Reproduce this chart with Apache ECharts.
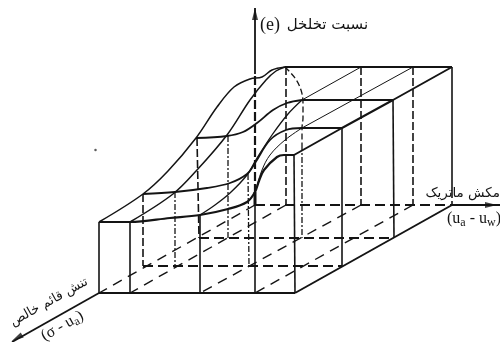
<!DOCTYPE html>
<html>
<head>
<meta charset="utf-8">
<title>chart</title>
<style>
html, body { margin: 0; padding: 0; background: #fff; }
#main { width: 500px; height: 342px; }
</style>
<script src="https://cdn.jsdelivr.net/npm/echarts@6/dist/echarts.min.js"></script>
</head>
<body>
<div id="main"></div>
<script>
// picture units: [across, down]
// curves running from the front of the block to the back
const curveLeft = [[99,222],[143,194],[168,171],[196,138],[217,107],[234,87],[250,79],[262,77],[272,70],[285,67]]
const curveSecond = [[130,222],[173,194],[197,170],[227,135],[250,100],[266,80],[276,71],[285,67]]
const curveThird = [[200,215],[215,205],[230,193],[247,175],[257,158],[272,135],[288,114],[302,100]]
const curveFourth = [[255,192],[262,170],[270,155],[285,140],[302,128]]
// curves running across the stress direction, thickest at the front
const crossFront = [[99,222],[130,222],[170,218],[200,215],[228,209],[247,202],[255,192],[259,181],[264,170],[277,157],[284,155],[294,155]]
const crossMiddle = [[143,194],[175,192],[207,188],[230,183],[247,174],[255,163],[270,140],[286,130],[302,128]]
const crossBack = [[196,138],[227,136],[243,132],[257,123],[273,110],[287,103],[302,100]]
const crownArc = [[285,67],[295,78],[301,90],[303,103],[303,118],[302,128],[302,145]]
// straight parts of the plateaus
const plateauEdge = [[294,155],[342,128],[393,100],[452,67]]
const plateauTop = [[285,67],[452,67]]
const plateauMiddle = [[302,100],[393,100]]
const plateauLow = [[302,128],[342,128]]
const ridgeOne = [[302,100],[361,67]]
const ridgeTwo = [[302,128],[413,67]]
// bottom of the block
const frontBase = [[99,293],[295,293]]
const frontRight = [[295,293],[452,205]]
const stressAxis = [[99,293],[12,342]]
const suctionAxis = [[452,205],[500,205]]
const voidAxis = [[255,8],[255,74]]
const voidDashed = [[255,76],[255,192]]
const voidFoot = [[255,192],[255,206]]
const baseBack = [[255,205],[452,205]]
const baseMiddle = [[199,238],[394,238]]
const baseFront = [[143,266],[342,266]]
// dashed lines on the floor, parallel to the stress axis
const floorLines = [
  [[255,205],[99,293]],
  [[286,205],[130,293]],
  [[361,205],[200,293]],
  [[413,205],[255,293]]
]
// verticals
const solidPosts = [
  [[99,222],[99,293]],
  [[130,222],[130,293]],
  [[200,215],[200,293]],
  [[255,195],[255,293]],
  [[294,155],[295,293]],
  [[342,128],[342,266]],
  [[393,100],[394,238]],
  [[452,67],[452,190]]
]
const dashedPosts = [
  [[143,194],[143,266]],
  [[197,138],[199,238]],
  [[286,67],[286,205]],
  [[361,67],[361,205]],
  [[413,67],[413,205]],
  [[452,190],[452,205]]
]
const dottedPosts = [
  [[175,192],[175,266]],
  [[228,136],[228,238]],
  [[248,174],[249,266]],
  [[302,145],[302,238]]
]
const arrowHeads = [[255,14,0],[491,205,-90],[17,338,120]]
const speck = [[95.5,150]]

const ink = '#141414'

// one line series from a list of points
function stroke(points, width, type, smooth) {
  return {
    type: 'line',
    data: points,
    smooth: smooth ? 0.35 : false,
    symbol: 'none',
    silent: true,
    lineStyle: { color: ink, width: width, type: type || 'solid', cap: 'butt' }
  }
}

let series = []
series.push(stroke(curveLeft, 1.5, 'solid', true))
series.push(stroke(curveSecond, 1.5, 'solid', true))
series.push(stroke(curveThird, 1.3, 'solid', true))
series.push(stroke(curveFourth, 1, 'solid', true))
series.push(stroke(crossFront, 2.2, 'solid', true))
series.push(stroke(crossMiddle, 1.8, 'solid', true))
series.push(stroke(crossBack, 1.8, 'solid', true))
series.push(stroke(crownArc, 1.3, [6, 3], true))
series.push(stroke(plateauEdge, 2))
series.push(stroke(plateauTop, 2))
series.push(stroke(plateauMiddle, 1.8))
series.push(stroke(plateauLow, 1.8))
series.push(stroke(ridgeOne, 1))
series.push(stroke(ridgeTwo, 1))
series.push(stroke(frontBase, 1.8))
series.push(stroke(frontRight, 2))
series.push(stroke(stressAxis, 1.8))
series.push(stroke(suctionAxis, 1.8))
series.push(stroke(voidAxis, 1.8))
series.push(stroke(voidDashed, 2.2, [9, 3]))
series.push(stroke(voidFoot, 3))
series.push(stroke(baseBack, 1.8, [10, 5]))
series.push(stroke(baseMiddle, 1.8, [10, 5]))
series.push(stroke(baseFront, 1.8, [10, 5]))
floorLines.forEach(p => series.push(stroke(p, 1.4, [10, 7])))
solidPosts.forEach(p => series.push(stroke(p, 1.6)))
dashedPosts.forEach(p => series.push(stroke(p, 1.6, [8, 3])))
dottedPosts.forEach(p => series.push(stroke(p, 1.3, [6, 2, 2, 2])))
series.push({
  type: 'scatter',
  silent: true,
  symbol: 'triangle',
  symbolSize: [6, 12],
  symbolRotate: (v) => v[2],
  itemStyle: { color: ink },
  data: arrowHeads
})
series.push({
  type: 'scatter',
  silent: true,
  symbolSize: 2.5,
  itemStyle: { color: '#333' },
  data: speck
})

const arabic = 'DejaVu Sans'
const latin = 'Liberation Serif'

let chart = echarts.init(document.getElementById('main'))
chart.setOption({
  animation: false,
  backgroundColor: '#fff',
  grid: { left: 0, right: 0, top: 0, bottom: 0 },
  xAxis: { type: 'value', min: 0, max: 500, show: false },
  yAxis: { type: 'value', min: 0, max: 342, inverse: true, show: false },
  series: series,
  graphic: [
    {
      type: 'text', left: 260, top: 16,
      style: {
        text: '{l|(e)}  {a|نسبت تخلخل}',
        rich: {
          l: { font: '18px ' + latin, fill: ink },
          a: { font: '15px ' + arabic, fill: ink }
        }
      }
    },
    {
      type: 'text', right: 0, top: 186,
      style: { text: 'مکش ماتریک', font: '13.5px ' + arabic, fill: ink }
    },
    {
      type: 'text', left: 447, top: 211,
      style: {
        text: '{l|(u}{s|a}{l| - u}{s|w}{l|)}',
        rich: {
          l: { font: '16px ' + latin, fill: ink, verticalAlign: 'top', height: 17 },
          s: { font: '12px ' + latin, fill: ink, verticalAlign: 'bottom', height: 24 }
        }
      }
    },
    {
      type: 'text', x: 49, y: 302, rotation: Math.PI / 6.2,
      style: { text: 'تنش قائم خالص', font: '13px ' + arabic, fill: ink, align: 'center', verticalAlign: 'middle' }
    },
    {
      type: 'text', x: 64, y: 329, rotation: Math.PI / 6.2,
      style: {
        text: '{l|(σ - u}{s|a}{l|)}',
        align: 'center', verticalAlign: 'middle',
        rich: {
          l: { font: '16px ' + latin, fill: ink, verticalAlign: 'top', height: 17 },
          s: { font: '12px ' + latin, fill: ink, verticalAlign: 'bottom', height: 24 }
        }
      }
    }
  ]
})
</script>
</body>
</html>
